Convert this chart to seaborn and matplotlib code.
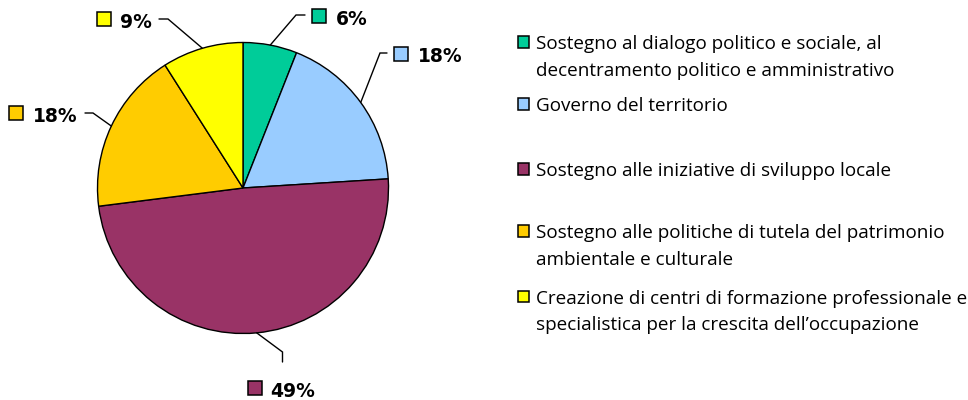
import numpy as np
import matplotlib
matplotlib.use("Agg")
import matplotlib.pyplot as plt
import seaborn as sns

# ---- data ----
categories = [
    "Sostegno al dialogo politico e sociale, al\ndecentramento politico e amministrativo",
    "Governo del territorio",
    "Sostegno alle iniziative di sviluppo locale",
    "Sostegno alle politiche di tutela del patrimonio\nambientale e culturale",
    "Creazione di centri di formazione professionale e\nspecialistica per la crescita dell\u2019occupazione",
]
values = [6, 18, 49, 18, 9]
value_labels = ["6%", "18%", "49%", "18%", "9%"]
colors = ["#00CC99", "#99CCFF", "#993366", "#FFCC00", "#FFFF00"]

# ---- layout (pixels in the 968x400 image, y from top) ----
W, H = 968, 400
CX, CY, R = 243, 188, 145.5
# per slice: elbow, end of leader, square centre, text x, text baseline
label_layout = [
    ((296, 15), (305, 15), (318.5, 16), 335.5, 25),
    ((380, 53), (387, 53), (401, 53.5), 418, 62.5),
    ((282.5, 352), (282.5, 362), (254.5, 387.5), 270.5, 397),
    ((93, 113), (85, 113), (16, 112.5), 33, 121.5),
    ((168, 19), (159, 19), (103.5, 18.5), 120, 27.5),
]
legend_sq_y = [41.8, 103.8, 168.8, 230.8, 296.7]
legend_sq_x = 523.5
legend_text_x = 536.5
legend_line_gap = 26.6

sns.set_theme(style="white")
plt.rcParams["font.family"] = ["DejaVu Sans"]

fig = plt.figure(figsize=(W / 100, H / 100), dpi=100)
ax = fig.add_axes([(CX - R) / W, (H - CY - R) / H, 2 * R / W, 2 * R / H])

pal = sns.color_palette(colors)
wedges, _ = ax.pie(
    values,
    colors=pal,
    startangle=90,
    counterclock=False,
    radius=1,
    wedgeprops=dict(edgecolor="black", linewidth=1.0),
)
ax.set_xlim(-1, 1)
ax.set_ylim(-1, 1)
ax.set_aspect("equal")
ax.axis("off")


def u(px, py):
    return (px - CX) / R, (CY - py) / R


total = float(sum(values))
cum = 0.0
for val, lab, col, lay in zip(values, value_labels, pal, label_layout):
    mid = (cum + val / 2) / total
    cum += val
    ang = np.deg2rad(90 - 360 * mid)
    sx, sy = np.cos(ang), np.sin(ang)
    elbow, end, sq, tx, tb = lay
    ex, ey = u(*elbow)
    nx, ny = u(*end)
    ax.plot([sx, ex, nx], [sy, ey, ny], color="black", lw=1.0, clip_on=False,
            solid_joinstyle="miter")
    qx, qy = u(*sq)
    ax.plot([qx], [qy], marker="s", markersize=10.5, markerfacecolor=col,
            markeredgecolor="black", markeredgewidth=1.1, clip_on=False)
    txu, tbu = u(tx, tb)
    ax.text(txu, tbu, lab, fontsize=13.5, fontweight="bold", color="black",
            ha="left", va="baseline", family="DejaVu Sans")

# legend drawn manually to follow the reference spacing
for cat, col, sqy in zip(categories, pal, legend_sq_y):
    s = 11.5
    rect = plt.Rectangle(((legend_sq_x - s / 2) / W, (H - sqy - s / 2) / H), s / W, s / H,
                         transform=fig.transFigure, facecolor=col, edgecolor="black",
                         linewidth=1.1)
    fig.patches.append(rect)
    for i, line in enumerate(cat.split("\n")):
        base = sqy + 7.2 + i * legend_line_gap
        fig.text(legend_text_x / W, (H - base) / H, line, fontsize=13.6,
                 family="Open Sans", color="black", ha="left", va="baseline")

fig.savefig("out.png", dpi=100, facecolor="white")
